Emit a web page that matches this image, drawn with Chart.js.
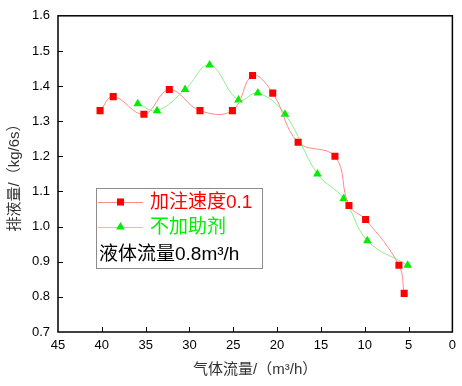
<!DOCTYPE html>
<html>
<head>
<meta charset="utf-8">
<script src="https://cdn.jsdelivr.net/npm/chart.js@4.4.0/dist/chart.umd.min.js"></script>
<style>
html,body{margin:0;padding:0;background:#fff;}
#wrap{width:462px;height:386px;position:relative;}
</style>
</head>
<body>
<div id="wrap"><canvas id="c" width="462" height="386"></canvas></div>
<script>
// Data
const redX   = [40.2, 38.7, 35.2, 32.3, 28.8, 25.1, 22.8, 20.5, 17.6, 13.4, 11.8, 9.9, 6.1, 5.5];
const redY   = [1.33, 1.37, 1.32, 1.39, 1.33, 1.33, 1.43, 1.38, 1.24, 1.20, 1.06, 1.02, 0.89, 0.81];
const greenX = [35.9, 33.7, 30.5, 27.7, 24.4, 22.2, 19.1, 15.4, 12.4, 9.7, 5.1];
const greenY = [1.35, 1.33, 1.39, 1.46, 1.36, 1.38, 1.32, 1.15, 1.08, 0.96, 0.89];
const seriesNames = ['加注速度0.1', '不加助剂'];
const noteText = '液体流量0.8m³/h';
const xTitle = '气体流量/（m³/h）';
const yTitle = '排液量/（kg/6s）';

const FONT = '"Liberation Sans", Arial, "Noto Sans CJK SC", sans-serif';

function pts(xs, ys){ return xs.map((x,i)=>({x:x, y:ys[i]})); }

const frame = {
  id:'frame',
  afterDraw(chart){
    const {ctx, chartArea:a, scales} = chart;
    ctx.save();
    ctx.strokeStyle = '#000';
    ctx.lineWidth = 1.5;
    ctx.strokeRect(a.left, a.top, a.right - a.left, a.bottom - a.top);
    ctx.lineWidth = 1;
    ctx.beginPath();
    scales.y.ticks.forEach(t=>{
      const p = Math.round(scales.y.getPixelForValue(t.value)) + 0.5;
      if (p > a.top + 2 && p < a.bottom - 2){ ctx.moveTo(a.left, p); ctx.lineTo(a.left + 5, p); }
    });
    scales.x.ticks.forEach(t=>{
      const p = Math.round(scales.x.getPixelForValue(t.value)) + 0.5;
      if (p > a.left + 2 && p < a.right - 2){ ctx.moveTo(p, a.bottom); ctx.lineTo(p, a.bottom - 5); }
    });
    ctx.stroke();
    ctx.restore();
  }
};

const legendBox = {
  id:'legendBox',
  afterDatasetsDraw(chart){
    const ctx = chart.ctx;
    const bx = 96, by = 188, bw = 166, bh = 80;
    ctx.save();
    ctx.fillStyle = '#fff';
    ctx.fillRect(bx, by, bw, bh);
    ctx.strokeStyle = '#8c8c8c';
    ctx.lineWidth = 1;
    ctx.strokeRect(bx + 0.5, by + 0.5, bw, bh);
    const rows = [202, 227];
    chart.data.datasets.forEach((ds, i)=>{
      const y = rows[i];
      ctx.strokeStyle = ds.borderColor;
      ctx.lineWidth = 1;
      ctx.beginPath();
      ctx.moveTo(98, y + 0.5); ctx.lineTo(143, y + 0.5);
      ctx.stroke();
      ctx.fillStyle = ds.pointBackgroundColor;
      ctx.strokeStyle = ds.pointBorderColor;
      Chart.helpers.drawPoint(ctx, {pointStyle: ds.pointStyle, radius: ds.pointRadius, rotation: 0, borderWidth: 0}, 120.5, y);
      ctx.fillStyle = ds.pointBackgroundColor;
      ctx.font = '19px ' + FONT;
      ctx.textBaseline = 'middle';
      ctx.textAlign = 'left';
      ctx.fillText(ds.label, 150, y + 1);
    });
    ctx.fillStyle = '#000';
    ctx.font = '19px ' + FONT;
    ctx.textBaseline = 'middle';
    ctx.fillText(noteText, 99, 255);
    ctx.restore();
  }
};

new Chart(document.getElementById('c'), {
  type: 'scatter',
  data: {
    datasets: [
      {
        label: seriesNames[0],
        data: pts(redX, redY),
        showLine: true,
        tension: 0.4,
        borderColor: '#ff8a8a',
        borderWidth: 1,
        pointStyle: 'rect',
        pointRadius: 5,
        pointBackgroundColor: '#ff0000',
        pointBorderColor: '#ff0000',
        pointBorderWidth: 0
      },
      {
        label: seriesNames[1],
        data: pts(greenX, greenY),
        showLine: true,
        tension: 0.4,
        borderColor: '#8af08a',
        borderWidth: 1,
        pointStyle: 'triangle',
        pointRadius: 5,
        pointBackgroundColor: '#00ee00',
        pointBorderColor: '#00ee00',
        pointBorderWidth: 0
      }
    ]
  },
  options: {
    responsive: false,
    animation: false,
    layout: { padding: { top: 12, right: 8, left: 0, bottom: 0 } },
    plugins: { legend: { display: false }, tooltip: { enabled: false } },
    scales: {
      x: {
        type: 'linear',
        reverse: true,
        min: 0, max: 45,
        afterFit(s){ s.height = 54; },
        grid: { display: false, drawTicks: false },
        border: { display: false },
        ticks: { stepSize: 5, color: '#000', padding: 6, font: { size: 13, family: FONT } },
        title: { display: true, text: xTitle, color: '#333', padding: { top: 7, bottom: 7 }, font: { size: 15, family: FONT } }
      },
      y: {
        type: 'linear',
        min: 0.7, max: 1.6,
        afterFit(s){ s.width = 58; },
        grid: { display: false, drawTicks: false },
        border: { display: false },
        ticks: { stepSize: 0.1, color: '#000', padding: 8, font: { size: 13, family: FONT },
                 callback: v => Number(v).toFixed(1) },
        title: { display: true, text: yTitle, color: '#333', padding: { top: 6, bottom: 6 }, font: { size: 15, family: FONT } }
      }
    }
  },
  plugins: [frame, legendBox]
});
</script>
</body>
</html>
